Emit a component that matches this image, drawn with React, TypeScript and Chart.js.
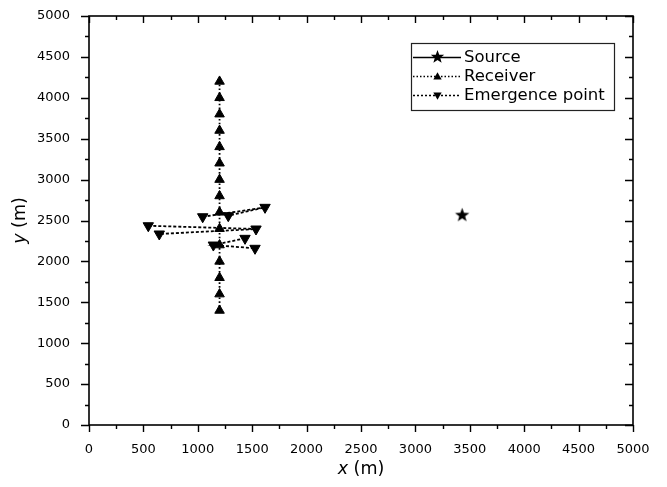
import React, { useEffect, useRef } from 'react';
import { Chart, registerables } from 'chart.js';

Chart.register(...registerables);

// ---- data ----
const receiverX = [1200, 1200, 1200, 1200, 1200, 1200, 1200, 1200, 1200, 1200, 1200, 1200, 1200, 1200, 1200];
const receiverY = [1400, 1600, 1800, 2000, 2200, 2400, 2600, 2800, 3000, 3200, 3400, 3600, 3800, 4000, 4200];
const sourceX = [3430];
const sourceY = [2570];
// null separates unconnected groups
const emergenceX: (number | null)[] = [1045, 1618, 1280, null, 545, 1535, 646, null, 1434, 1143, 1526];
const emergenceY: (number | null)[] = [2546, 2661, 2559, null, 2436, 2396, 2335, null, 2282, 2200, 2160];
const axisMin = 0;
const axisMax = 5000;
const axisStep = 500;
const legendLabels = ['Source', 'Receiver', 'Emergence point'];
const xTitle = ['x', ' (m)'];
const yTitle = ['y', ' (m)'];

const FONT = '"DejaVu Sans", "Liberation Sans", Arial, sans-serif';

function zip(xs: (number | null)[], ys: (number | null)[]) {
  return xs.map((x, i) => ({ x: x as number, y: ys[i] as number }));
}

function makeStar(outer: number, inner: number): HTMLCanvasElement {
  const s = Math.ceil(outer * 2 + 2);
  const c = document.createElement('canvas');
  c.width = s;
  c.height = s;
  const ctx = c.getContext('2d')!;
  drawStar(ctx, s / 2, s / 2 + 0.5, outer, inner);
  return c;
}

function drawStar(ctx: CanvasRenderingContext2D, cx: number, cy: number, outer: number, inner: number) {
  ctx.beginPath();
  for (let i = 0; i < 10; i++) {
    const a = -Math.PI / 2 + (i * Math.PI) / 5;
    const r = i % 2 === 0 ? outer : inner;
    const px = cx + r * Math.cos(a);
    const py = cy + r * Math.sin(a);
    if (i === 0) ctx.moveTo(px, py);
    else ctx.lineTo(px, py);
  }
  ctx.closePath();
  ctx.fillStyle = '#000';
  ctx.fill();
}

function drawTri(ctx: CanvasRenderingContext2D, cx: number, cy: number, r: number, down: boolean) {
  const h = 1.5 * r;
  const half = (Math.sqrt(3) * r) / 2;
  ctx.beginPath();
  if (!down) {
    ctx.moveTo(cx, cy - r);
    ctx.lineTo(cx + half, cy - r + h);
    ctx.lineTo(cx - half, cy - r + h);
  } else {
    ctx.moveTo(cx, cy + r);
    ctx.lineTo(cx + half, cy + r - h);
    ctx.lineTo(cx - half, cy + r - h);
  }
  ctx.closePath();
  ctx.fillStyle = '#000';
  ctx.fill();
}

const framePlugin = {
  id: 'framePlugin',
  afterDraw(chart: any) {
    const ctx: CanvasRenderingContext2D = chart.ctx;
    const { left, right, top, bottom } = chart.chartArea;
    const xs = chart.scales.x;
    const ys = chart.scales.y;
    ctx.save();
    ctx.strokeStyle = '#000';
    ctx.lineWidth = 1.6;
    ctx.strokeRect(left, top, right - left, bottom - top);

    ctx.lineWidth = 1.4;
    const xv = xs.ticks.map((t: any) => t.value);
    const yv = ys.ticks.map((t: any) => t.value);
    const majorX = 7, minorX = 4, majorY = 8, minorY = 4;
    ctx.beginPath();
    xv.forEach((v: number, i: number) => {
      const p = Math.round(xs.getPixelForValue(v)) + 0.5;
      ctx.moveTo(p, bottom); ctx.lineTo(p, bottom + majorX);
      ctx.moveTo(p, top); ctx.lineTo(p, top + majorX);
      if (i < xv.length - 1) {
        const m = Math.round(xs.getPixelForValue((v + xv[i + 1]) / 2)) + 0.5;
        ctx.moveTo(m, bottom); ctx.lineTo(m, bottom + minorX);
        ctx.moveTo(m, top); ctx.lineTo(m, top + minorX);
      }
    });
    yv.forEach((v: number, i: number) => {
      const p = Math.round(ys.getPixelForValue(v)) + 0.5;
      ctx.moveTo(left, p); ctx.lineTo(left - majorY, p);
      ctx.moveTo(right, p); ctx.lineTo(right - majorY, p);
      if (i < yv.length - 1) {
        const m = Math.round(ys.getPixelForValue((v + yv[i + 1]) / 2)) + 0.5;
        ctx.moveTo(left, m); ctx.lineTo(left - minorY, m);
        ctx.moveTo(right, m); ctx.lineTo(right - minorY, m);
      }
    });
    ctx.stroke();

    // axis titles
    const tf = 17.5;
    ctx.fillStyle = '#000';
    ctx.textBaseline = 'alphabetic';
    ctx.font = `italic ${tf}px ${FONT}`;
    const w1 = ctx.measureText(xTitle[0]).width;
    ctx.font = `${tf}px ${FONT}`;
    const w2 = ctx.measureText(xTitle[1]).width;
    const cx = (left + right) / 2;
    const bx = cx - (w1 + w2) / 2;
    const by = 474;
    ctx.font = `italic ${tf}px ${FONT}`;
    ctx.fillText(xTitle[0], bx, by);
    ctx.font = `${tf}px ${FONT}`;
    ctx.fillText(xTitle[1], bx + w1, by);

    ctx.save();
    ctx.translate(25, (top + bottom) / 2);
    ctx.rotate(-Math.PI / 2);
    ctx.font = `italic ${tf}px ${FONT}`;
    const v1 = ctx.measureText(yTitle[0]).width;
    ctx.font = `${tf}px ${FONT}`;
    const v2 = ctx.measureText(yTitle[1]).width;
    const sx = -(v1 + v2) / 2;
    ctx.font = `italic ${tf}px ${FONT}`;
    ctx.fillText(yTitle[0], sx, 0);
    ctx.font = `${tf}px ${FONT}`;
    ctx.fillText(yTitle[1], sx + v1, 0);
    ctx.restore();

    // legend
    const lx = 411.5, ly = 43.5, lw = 203, lh = 67;
    ctx.lineWidth = 1.2;
    ctx.strokeStyle = '#222';
    ctx.setLineDash([]);
    ctx.strokeRect(lx, ly, lw, lh);
    const rows = [57, 76, 95];
    const x0 = 413, x1 = 461, mx = 437.5;
    ctx.lineWidth = 1.4;
    ctx.strokeStyle = '#000';
    ctx.beginPath(); ctx.moveTo(x0, rows[0] + 0.5); ctx.lineTo(x1, rows[0] + 0.5); ctx.stroke();
    drawStar(ctx, mx, rows[0], 7, 2.9);
    ctx.setLineDash([1.5, 2]);
    ctx.beginPath(); ctx.moveTo(x0, rows[1] + 0.5); ctx.lineTo(x1, rows[1] + 0.5); ctx.stroke();
    ctx.setLineDash([]);
    drawTri(ctx, mx, rows[1] + 1, 4.8, false);
    ctx.setLineDash([2, 2]);
    ctx.beginPath(); ctx.moveTo(x0, rows[2] + 0.5); ctx.lineTo(x1, rows[2] + 0.5); ctx.stroke();
    ctx.setLineDash([]);
    drawTri(ctx, mx, rows[2], 4.8, true);

    ctx.font = `16.5px ${FONT}`;
    ctx.textBaseline = 'middle';
    ctx.fillStyle = '#000';
    legendLabels.forEach((t, i) => ctx.fillText(t, 464, rows[i] + 1));
    ctx.restore();
  },
};

const fmt = (v: any) => String(v);

export default function App() {
  const ref = useRef<HTMLCanvasElement>(null);
  useEffect(() => {
    document.body.style.margin = '0';
    const star = makeStar(7.5, 3.1);
    const chart = new Chart(ref.current!, {
      type: 'scatter',
      data: {
        datasets: [
          {
            label: legendLabels[0],
            data: zip(sourceX, sourceY),
            showLine: true,
            borderColor: '#000',
            backgroundColor: '#000',
            borderWidth: 1.2,
            pointStyle: star as any,
            pointRadius: 8,
          },
          {
            label: legendLabels[1],
            data: zip(receiverX, receiverY),
            showLine: true,
            borderColor: '#000',
            backgroundColor: '#000',
            borderWidth: 1.8,
            borderDash: [1.6, 2.2],
            pointStyle: 'triangle',
            pointRadius: 5.5,
            pointBorderWidth: 1,
            pointBorderColor: '#000',
            pointBackgroundColor: '#000',
          },
          {
            label: legendLabels[2],
            data: zip(emergenceX, emergenceY),
            showLine: true,
            spanGaps: false,
            borderColor: '#000',
            backgroundColor: '#000',
            borderWidth: 1.8,
            borderDash: [3, 2],
            pointStyle: 'triangle',
            pointRotation: 180,
            pointRadius: 6,
            pointBorderWidth: 1,
            pointBorderColor: '#000',
            pointBackgroundColor: '#000',
          },
        ],
      },
      options: {
        animation: false,
        responsive: false,
        devicePixelRatio: 1,
        layout: { padding: { left: 0, right: 34, top: 16, bottom: 0 } },
        plugins: { legend: { display: false }, tooltip: { enabled: false } },
        scales: {
          x: {
            type: 'linear',
            min: axisMin,
            max: axisMax,
            grid: { display: false },
            border: { display: false },
            ticks: { stepSize: axisStep, callback: fmt, color: '#000', font: { family: FONT, size: 13 }, padding: 9, maxRotation: 0, autoSkip: false },
            afterFit: (s: any) => { s.height = 62; s.paddingLeft = 0; s.paddingRight = 0; },
          },
          y: {
            type: 'linear',
            min: axisMin,
            max: axisMax,
            grid: { display: false },
            border: { display: false },
            ticks: { stepSize: axisStep, callback: fmt, color: '#000', font: { family: FONT, size: 13 }, padding: 11, autoSkip: false },
            afterFit: (s: any) => { s.width = 89; s.paddingTop = 0; s.paddingBottom = 0; },
          },
        },
      } as any,
      plugins: [framePlugin],
    });
    return () => chart.destroy();
  }, []);
  return (
    <div style={{ width: 667, height: 487, background: '#fff' }}>
      <canvas ref={ref} width={667} height={487} style={{ width: 667, height: 487, display: 'block' }} />
    </div>
  );
}
